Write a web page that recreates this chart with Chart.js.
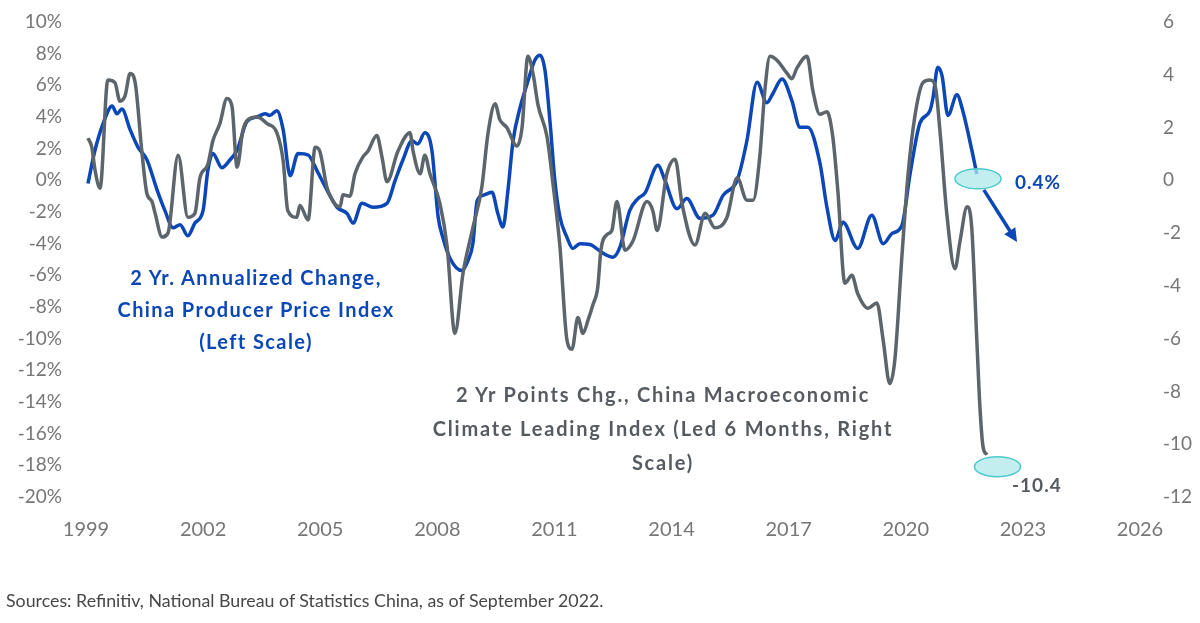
<!DOCTYPE html>
<html>
<head>
<meta charset="utf-8">
<script src="https://cdn.jsdelivr.net/npm/chart.js@4.4.0/dist/chart.umd.min.js"></script>
<style>
  html, body { margin: 0; padding: 0; background: #fff; }
  #wrap { position: relative; width: 1200px; height: 623px; overflow: hidden; font-family: Lato, "Open Sans", sans-serif; }
  #chart { position: absolute; left: 0; top: 0; }
  .note { position: absolute; font-weight: 700; text-align: center; white-space: nowrap; transform: translateX(-50%); }
  .ppi { color: #0b47b6; font-size: 20px; line-height: 32px; left: 256px; top: 261px; letter-spacing: 1.4px; }
  .cli { color: #555b61; font-size: 20px; line-height: 34px; left: 663px; top: 377px; letter-spacing: 1.8px; }
  .end { position: absolute; font-weight: 700; font-size: 19px; letter-spacing: 1px; white-space: nowrap; }
  .source { position: absolute; left: 6px; top: 589px; font-size: 17.8px; color: #474747; }
</style>
</head>
<body>
<div id="wrap">
  <canvas id="chart" width="1200" height="623"></canvas>
  <div class="note ppi">2 Yr. Annualized Change,<br>China Producer Price Index<br>(Left Scale)</div>
  <div class="note cli">2 Yr Points Chg., China Macroeconomic<br>Climate Leading Index (Led 6 Months, Right<br>Scale)</div>
  <div class="end" style="left:1015px; top:170px; color:#0b47b6;">0.4%</div>
  <div class="end" style="left:1012px; top:473px; color:#555b61;">-10.4</div>
  <div class="source">Sources: Refinitiv, National Bureau of Statistics China, as of September 2022.</div>
</div>
<script>
// Tick labels
const yearTicks = [1999, 2002, 2005, 2008, 2011, 2014, 2017, 2020, 2023, 2026];

// China PPI, 2 yr annualized change (%), left scale
const ppiYears = [1999.05, 1999.23, 1999.44, 1999.67, 1999.79, 1999.92, 2000.13, 2000.33, 2000.56, 2000.82,
  2001.02, 2001.23, 2001.41, 2001.61, 2001.79, 2002.00, 2002.12, 2002.25, 2002.48, 2002.69,
  2002.87, 2003.12, 2003.38, 2003.59, 2003.71, 2003.89, 2004.05, 2004.23, 2004.43, 2004.69,
  2004.92, 2005.17, 2005.43, 2005.69, 2005.84, 2006.07, 2006.35, 2006.71, 2006.92, 2007.12,
  2007.35, 2007.50, 2007.68, 2007.86, 2008.02, 2008.14, 2008.32, 2008.63, 2008.78, 2008.91,
  2009.02, 2009.17, 2009.40, 2009.55, 2009.68, 2009.81, 2009.94, 2010.12, 2010.30, 2010.50,
  2010.63, 2010.76, 2010.89, 2011.01, 2011.14, 2011.32, 2011.47, 2011.65, 2011.91, 2012.24,
  2012.50, 2012.68, 2012.93, 2013.14, 2013.32, 2013.65, 2013.83, 2014.14, 2014.39, 2014.73,
  2015.06, 2015.32, 2015.68, 2015.93, 2016.19, 2016.44, 2016.60, 2016.83, 2017.08, 2017.29,
  2017.49, 2017.80, 2017.98, 2018.19, 2018.39, 2018.77, 2019.13, 2019.42, 2019.65, 2019.90,
  2020.11, 2020.36, 2020.62, 2020.70, 2020.82, 2020.93, 2021.08, 2021.31, 2021.46, 2021.64,
  2021.82];
const ppiValues = [-0.2, 1.9, 3.6, 4.7, 4.2, 4.5, 3.2, 2.1, 1.3, -0.6,
  -1.9, -3.0, -2.8, -3.5, -2.7, -1.9, 0.6, 1.7, 0.8, 1.3,
  1.9, 3.7, 4.0, 4.2, 4.1, 4.4, 3.2, 0.3, 1.7, 1.6,
  0.6, -0.6, -1.7, -2.1, -2.7, -1.45, -1.7, -1.45, 0.0, 1.3,
  2.5, 2.3, 3.0, 1.9, -2.3, -3.6, -4.9, -5.7, -5.1, -4.0,
  -1.3, -0.95, -0.75, -2.1, -2.95, -0.6, 2.5, 4.6, 6.1, 7.6,
  7.9, 6.9, 3.6, 0.0, -2.3, -3.6, -4.3, -4.0, -4.05, -4.6,
  -4.85, -4.2, -1.9, -1.15, -0.8, 0.95, 0.0, -1.8, -1.15, -2.4,
  -2.2, -0.95, 0.0, 2.5, 6.2, 4.9, 5.5, 6.4, 5.05, 3.35,
  3.35, 1.1, -1.7, -3.8, -2.65, -4.3, -2.2, -4.0, -3.35, -2.85,
  0.4, 3.6, 4.4, 5.25, 7.15, 6.6, 4.1, 5.4, 4.4, 2.5,
  0.4];

// China Macroeconomic Climate Leading Index, 2 yr points change, led 6 months (right scale)
const cliYears = [1999.05, 1999.15, 1999.23, 1999.36, 1999.56, 1999.74, 1999.87, 2000.00, 2000.13, 2000.26,
  2000.43, 2000.56, 2000.69, 2000.77, 2000.95, 2001.10, 2001.36, 2001.61, 2001.79, 2001.92,
  2002.12, 2002.25, 2002.43, 2002.61, 2002.74, 2002.87, 2003.02, 2003.15, 2003.38, 2003.64,
  2003.89, 2004.05, 2004.17, 2004.40, 2004.48, 2004.69, 2004.87, 2004.99, 2005.17, 2005.38,
  2005.51, 2005.58, 2005.76, 2005.89, 2006.10, 2006.22, 2006.45, 2006.58, 2006.71, 2006.99,
  2007.30, 2007.38, 2007.56, 2007.68, 2007.81, 2008.07, 2008.25, 2008.45, 2008.66, 2008.91,
  2009.14, 2009.30, 2009.48, 2009.60, 2009.78, 2010.04, 2010.17, 2010.32, 2010.45, 2010.58,
  2010.81, 2010.96, 2011.14, 2011.32, 2011.45, 2011.60, 2011.73, 2011.86, 2011.99, 2012.11,
  2012.19, 2012.35, 2012.47, 2012.60, 2012.81, 2013.01, 2013.37, 2013.52, 2013.63, 2013.88,
  2014.09, 2014.27, 2014.60, 2014.86, 2015.11, 2015.42, 2015.68, 2015.93, 2016.09, 2016.26,
  2016.39, 2016.52, 2016.70, 2016.96, 2017.08, 2017.21, 2017.47, 2017.62, 2017.80, 2017.98,
  2018.13, 2018.26, 2018.44, 2018.62, 2018.77, 2019.03, 2019.26, 2019.42, 2019.59, 2019.72,
  2019.90, 2020.06, 2020.23, 2020.44, 2020.62, 2020.75, 2020.88, 2021.05, 2021.26, 2021.39,
  2021.57, 2021.69, 2021.82, 2021.90, 2021.98, 2022.08];
const cliValues = [1.6, 1.25, 0.4, -0.3, 3.8, 3.7, 3.0, 3.2, 4.05, 3.7,
  1.1, -0.5, -0.8, -1.25, -2.15, -2.0, 0.95, -1.4, -1.25, 0.1,
  0.6, 1.5, 2.15, 3.1, 2.8, 0.5, 1.9, 2.3, 2.4, 2.15,
  1.8, 0.75, -1.15, -1.4, -0.95, -1.5, 1.25, 1.1, -0.25, -0.9,
  -1.0, -0.55, -0.6, 0.25, 0.9, 1.1, 1.7, 0.9, -0.05, 1.1,
  1.8, 1.1, 0.25, 0.95, 0.25, -0.9, -2.5, -5.8, -3.5, -1.8,
  -0.25, 1.8, 2.9, 2.3, 2.0, 1.3, 2.0, 4.7, 4.05, 2.85,
  1.65, -0.1, -2.5, -6.05, -6.4, -5.2, -5.8, -5.3, -4.7, -4.05,
  -2.65, -2.05, -1.9, -0.8, -2.65, -2.3, -0.8, -1.15, -1.9, 0.25,
  0.8, -0.9, -2.45, -1.25, -1.8, -1.4, 0.1, -0.75, -0.75, 0.9,
  3.4, 4.7, 4.55, 4.05, 3.85, 4.25, 4.7, 3.4, 2.5, 2.6,
  1.65, -0.4, -3.9, -3.6, -4.3, -4.85, -4.65, -6.05, -7.7, -6.8,
  -2.9, 0.25, 2.4, 3.7, 3.8, 3.6, 1.8, -1.25, -3.35, -2.3,
  -1.0, -1.8, -6.05, -8.6, -10.1, -10.4];

// Callout positions (data units)
const ppiCircle = [2021.85, 0.1];
const cliCircle = [2022.35, -10.85];
const arrowFrom = [2022.0, -0.6];
const arrowTo = [2022.85, -3.9];

const BLUE = '#0b47b6';
const GREY = '#5c646c';
const TICK = '#767676';

function toPoints(xs, ys) {
  return xs.map((x, i) => ({ x: x, y: ys[i] }));
}

// fixed axis widths; drop the extra label padding Chart.js adds above and below
function fixY(width) {
  return (scale) => {
    scale.width = width;
    scale.paddingTop = 0;
    scale.paddingBottom = 0;
  };
}

// ellipses and arrow drawn on top of the lines
const callouts = {
  id: 'callouts',
  afterDatasetsDraw(chart) {
    const { ctx, scales } = chart;
    const x = scales.x, yL = scales.yL, yR = scales.yR;

    function ellipse(cx, cy) {
      ctx.save();
      ctx.beginPath();
      ctx.ellipse(cx, cy, 23, 10, 0, 0, Math.PI * 2);
      ctx.fillStyle = 'rgba(175, 232, 235, 0.75)';
      ctx.fill();
      ctx.lineWidth = 1.5;
      ctx.strokeStyle = '#4cc9cc';
      ctx.stroke();
      ctx.restore();
    }
    ellipse(x.getPixelForValue(ppiCircle[0]), yL.getPixelForValue(ppiCircle[1]));
    ellipse(x.getPixelForValue(cliCircle[0]), yR.getPixelForValue(cliCircle[1]));

    // arrow
    const x1 = x.getPixelForValue(arrowFrom[0]), y1 = yL.getPixelForValue(arrowFrom[1]);
    const x2 = x.getPixelForValue(arrowTo[0]), y2 = yL.getPixelForValue(arrowTo[1]);
    const ang = Math.atan2(y2 - y1, x2 - x1);
    const head = 15;
    ctx.save();
    ctx.strokeStyle = BLUE;
    ctx.fillStyle = BLUE;
    ctx.lineWidth = 3.5;
    ctx.beginPath();
    ctx.moveTo(x1, y1);
    ctx.lineTo(x2 - Math.cos(ang) * head * 0.8, y2 - Math.sin(ang) * head * 0.8);
    ctx.stroke();
    ctx.beginPath();
    ctx.moveTo(x2, y2);
    ctx.lineTo(x2 - head * Math.cos(ang - 0.45), y2 - head * Math.sin(ang - 0.45));
    ctx.lineTo(x2 - head * Math.cos(ang + 0.45), y2 - head * Math.sin(ang + 0.45));
    ctx.closePath();
    ctx.fill();
    ctx.restore();
  }
};

const ctx = document.getElementById('chart').getContext('2d');
const chart = new Chart(ctx, {
  type: 'line',
  data: {
    datasets: [{
      label: '2 Yr Points Chg., China Macroeconomic Climate Leading Index',
      data: toPoints(cliYears, cliValues),
      yAxisID: 'yR',
      borderColor: GREY,
      borderWidth: 3.5,
      pointRadius: 0,
      cubicInterpolationMode: 'monotone',
      order: 0
    }, {
      label: '2 Yr. Annualized Change, China Producer Price Index',
      data: toPoints(ppiYears, ppiValues),
      yAxisID: 'yL',
      borderColor: BLUE,
      borderWidth: 3.5,
      pointRadius: 0,
      cubicInterpolationMode: 'monotone',
      order: 1
    }]
  },
  options: {
    responsive: false,
    animation: false,
    layout: { padding: { top: 22, left: 0, right: 0, bottom: 0 } },
    plugins: { legend: { display: false }, tooltip: { enabled: false } },
    scales: {
      x: {
        type: 'linear',
        min: 1999,
        max: 2026,
        grid: { display: false, drawTicks: false },
        border: { display: false },
        afterBuildTicks: (scale) => { scale.ticks = yearTicks.map(v => ({ value: v })); },
        afterFit: (scale) => { scale.height = 126; },
        ticks: {
          color: TICK,
          font: { family: 'Lato', size: 20 },
          padding: 21,
          maxRotation: 0,
          callback: (v) => String(v)
        }
      },
      yL: {
        position: 'left',
        min: -20,
        max: 10,
        grid: { display: false, drawTicks: false },
        border: { display: false },
        afterFit: fixY(86),
        ticks: {
          stepSize: 2,
          color: TICK,
          font: { family: 'Lato', size: 19 },
          padding: 24,
          callback: (v) => v + '%'
        }
      },
      yR: {
        position: 'right',
        min: -12,
        max: 6,
        grid: { display: false, drawTicks: false },
        border: { display: false },
        afterFit: fixY(60),
        ticks: {
          stepSize: 2,
          color: TICK,
          font: { family: 'Lato', size: 19 },
          padding: 23,
          callback: (v) => String(v)
        }
      }
    }
  },
  plugins: [callouts]
});
</script>
</body>
</html>
